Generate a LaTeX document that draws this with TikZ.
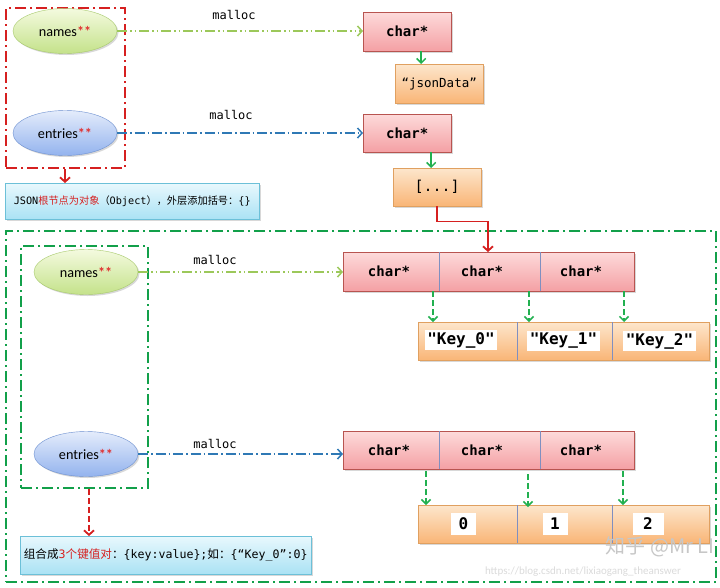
\documentclass[tikz,border=0pt]{standalone}
\usepackage{fontspec}
\setmainfont{Carlito}
\setmonofont{DejaVu Sans Mono}
\newfontfamily\cjk{Noto Sans CJK SC}
\usetikzlibrary{arrows.meta,shadows,shapes.geometric}
\definecolor{pinktop}{HTML}{FDDADA}
\definecolor{pinkbot}{HTML}{F4A0A4}
\definecolor{pinkbd}{HTML}{B85450}
\definecolor{ortop}{HTML}{FDE6CC}
\definecolor{orbot}{HTML}{F9B576}
\definecolor{orbd}{HTML}{E0A060}
\definecolor{grtop}{HTML}{F4FADF}
\definecolor{grbot}{HTML}{C4E28A}
\definecolor{grbd}{HTML}{A6C96A}
\definecolor{bltop}{HTML}{E4ECFB}
\definecolor{blbot}{HTML}{93B3EE}
\definecolor{blbd}{HTML}{6B8FD0}
\definecolor{cytop}{HTML}{E8F8FD}
\definecolor{cybot}{HTML}{AAE2F4}
\definecolor{cybd}{HTML}{6CC0D8}
\definecolor{redd}{HTML}{D62020}
\definecolor{outg}{HTML}{12A04A}
\definecolor{arrg}{HTML}{22B050}
\definecolor{lineg}{HTML}{9CC85A}
\definecolor{lineb}{HTML}{2F79B5}
\definecolor{divc}{HTML}{7F8FC0}
\definecolor{starc}{HTML}{E03030}
\tikzset{
  x=1pt, y=-1pt,
  shad/.style={drop shadow={shadow xshift=1.5pt,shadow yshift=-1.5pt,opacity=0.3}},
  ptrfont/.style={font=\ttfamily\bfseries\fontsize{14}{16}\selectfont},
  ptrbox/.style={rectangle, draw=pinkbd, top color=pinktop, bottom color=pinkbot, shad,
    anchor=north west, inner sep=0pt, ptrfont},
  databox/.style={rectangle, draw=orbd, top color=ortop, bottom color=orbot, shad,
    anchor=north west, inner sep=0pt},
  ell/.style={ellipse, inner sep=0pt, minimum width=104pt, minimum height=45pt, shad,
    font=\fontsize{14.2}{16}\selectfont},
  ellg/.style={ell, draw=grbd, top color=grtop, bottom color=grbot},
  ellb/.style={ell, draw=blbd, top color=bltop, bottom color=blbot},
  notebox/.style={rectangle, draw=cybd, top color=cytop, bottom color=cybot, shad,
    anchor=north west, inner sep=0pt},
  redframe/.style={draw=redd, line width=2pt, dash pattern=on 11pt off 4pt on 2pt off 4pt,
    rectangle, anchor=north west, inner sep=0pt},
  grframe/.style={draw=outg, line width=2pt, dash pattern=on 11pt off 4pt on 2pt off 4pt,
    rectangle, anchor=north west, inner sep=0pt},
  gline/.style={draw=lineg, line width=1.5pt, dash pattern=on 10pt off 3pt on 1.5pt off 3pt on 1.5pt off 3pt,
    -{Straight Barb[length=4.5pt,width=10pt]}},
  bline/.style={draw=lineb, line width=1.5pt, dash pattern=on 10pt off 3pt on 1.5pt off 3pt,
    -{Straight Barb[length=4.5pt,width=10pt]}},
  lbl/.style={font=\ttfamily\fontsize{12}{14}\selectfont},
  garrow/.style={draw=arrg, line width=1.5pt, -{Straight Barb[length=4.5pt,width=9pt]}},
  gdarrow/.style={garrow, dash pattern=on 6pt off 3pt},
  redarrow/.style={draw=redd, line width=1.8pt, -{Straight Barb[length=4.5pt,width=10pt]}},
  divider/.style={draw=divc, line width=0.7pt},
  celltxt/.style={fill=white, inner sep=2.5pt, font=\ttfamily\bfseries\fontsize{16}{18}\selectfont},
  wmark/.style={inner sep=0pt},
}
\begin{document}
\begin{tikzpicture}
\useasboundingbox (0,0) rectangle (720,587);
\fill[white] (0,0) rectangle (720,587);

% ---- top part
\node[redframe, minimum width=119pt, minimum height=160pt] (topframe) at (5,7) {};
\node[ellg] (n1) at (65,31) {names\textcolor{starc}{\textbf{**}}};
\node[ellb] (e1) at (65,133) {entries\textcolor{starc}{\textbf{**}}};

\node[ptrbox, minimum width=88pt, minimum height=39pt] (c1) at (363,12) {char*};
\node[databox, minimum width=88pt, minimum height=39pt,
  font=\ttfamily\fontsize{12.5}{14}\selectfont] (j1) at (395,64) {“jsonData”};
\node[ptrbox, minimum width=88pt, minimum height=38pt] (c2) at (363,114) {char*};
\node[databox, minimum width=88pt, minimum height=38pt,
  font=\ttfamily\fontsize{15}{17}\selectfont] (b1) at (393,168) {[...]};

\draw[gline] (n1.east) -- (n1.east -| c1.west);
\node[lbl] (m1) at (234,15) {malloc};
\draw[bline] (e1.east) -- (e1.east -| c2.west);
\node[lbl] (m2) at (231,115) {malloc};

\draw[garrow] ([xshift=14pt]c1.south) -- ([xshift=14pt]c1.south |- j1.north);
\draw[garrow] ([xshift=24pt]c2.south) -- ([xshift=24pt]c2.south |- b1.north);

\node[notebox, minimum width=254pt, minimum height=36pt,
  font=\fontsize{10.2}{12}\selectfont] (note1) at (5,183)
  {{\ttfamily JSON}{\cjk\color{redd}根节点为对象}{\cjk （}{\ttfamily Object}{\cjk ），外层添加括号：}{\ttfamily\{\}}};
\draw[redarrow] (topframe.south -| n1) -- (note1.north -| n1);

% ---- lower part
\node[grframe, minimum width=710pt, minimum height=351pt] (outer) at (5,230) {};
\node[grframe, minimum width=127pt, minimum height=242pt] (inner) at (20,245) {};
\node[ellg] (n2) at (86,272) {names\textcolor{starc}{\textbf{**}}};
\node[ellb] (e2) at (86,454) {entries\textcolor{starc}{\textbf{**}}};

% array of names pointers
\node[ptrbox, minimum width=291pt, minimum height=39pt] (arr1) at (343,252) {};
\node[ptrfont] (p1) at (389,271.5) {char*};
\node[ptrfont] (p2) at (482,271.5) {char*};
\node[ptrfont] (p3) at (581,271.5) {char*};
\coordinate (d11) at (439,252); \coordinate (d12) at (540,252);
\draw[divider] (d11) -- (d11 |- arr1.south);
\draw[divider] (d12) -- (d12 |- arr1.south);

% keys
\node[databox, minimum width=291pt, minimum height=38pt] (keys) at (418,322) {};
\coordinate (d21) at (517,322); \coordinate (d22) at (612,322);
\draw[divider] (d21) -- (d21 |- keys.south);
\draw[divider] (d22) -- (d22 |- keys.south);
\node[celltxt] (k1) at (461,340) {"Key\_0"};
\node[celltxt] (k2) at (563.5,341) {"Key\_1"};
\node[celltxt] (k3) at (659.5,341) {"Key\_2"};

% array of entries pointers
\node[ptrbox, minimum width=291pt, minimum height=38pt] (arr2) at (343,431) {};
\node[ptrfont] (q1) at (389,450) {char*};
\node[ptrfont] (q2) at (482,450) {char*};
\node[ptrfont] (q3) at (581,450) {char*};
\coordinate (d31) at (439,431); \coordinate (d32) at (540,431);
\draw[divider] (d31) -- (d31 |- arr2.south);
\draw[divider] (d32) -- (d32 |- arr2.south);

% values
\node[databox, minimum width=291pt, minimum height=38pt] (vals) at (418,505) {};
\coordinate (d41) at (517,505); \coordinate (d42) at (612,505);
\draw[divider] (d41) -- (d41 |- vals.south);
\draw[divider] (d42) -- (d42 |- vals.south);
\node[celltxt, minimum width=25pt, minimum height=22pt] (v1) at (463.5,523.5) {0};
\node[celltxt, minimum width=25pt, minimum height=22pt] (v2) at (555,523.5) {1};
\node[celltxt, minimum width=31pt, minimum height=22pt] (v3) at (648,523.5) {2};

% malloc arrows
\draw[gline] (n2.east) -- (n2.east -| arr1.west);
\node[lbl] (m3) at (215,260) {malloc};
\draw[bline] (e2.east) -- (e2.east -| arr2.west);
\node[lbl] (m4) at (215,444) {malloc};

% red connector from [...] to array
\draw[redarrow] (b1.south) -- ++(0,15) -| (arr1.north -| 488,0);

% pointer arrows
\coordinate (s1) at (433,291); \coordinate (s2) at (529,291); \coordinate (s3) at (624,291);
\draw[gdarrow] (s1) -- (s1 |- keys.north);
\draw[gdarrow] (s2) -- (s2 |- keys.north);
\draw[gdarrow] (s3) -- (s3 |- keys.north);
\coordinate (t1) at (426,471); \coordinate (t2) at (528,474); \coordinate (t3) at (623,471);
\draw[gdarrow] (t1) -- (t1 |- vals.north);
\draw[gdarrow] (t2) -- ([yshift=-2pt]t2 |- vals.north);
\draw[gdarrow] (t3) -- (t3 |- vals.north);

% bottom note
\node[notebox, minimum width=291pt, minimum height=38pt,
  font=\fontsize{11.6}{13}\selectfont] (note2) at (20,536)
  {{\cjk 组合成}{\color{redd}{\ttfamily 3}{\cjk 个键值对}}{\cjk ：}{\ttfamily\{key:value\};}{\cjk 如：}{\ttfamily\{“Key\_0”:0\}}};
\draw[redarrow, dash pattern=on 6pt off 3pt] (inner.south -| 89,0) -- (note2.north -| 89,0);

% watermark
\node[wmark, text=black!22, font=\cjk\fontsize{20}{22}\selectfont] (wm1) at (660,547) {知乎 @Mr LI};
\node[wmark, text=black!14, font=\fontsize{11}{13}\selectfont] (wm2) at (583,572) {https://blog.csdn.net/lixiaogang\_theanswer};
\end{tikzpicture}
\end{document}
